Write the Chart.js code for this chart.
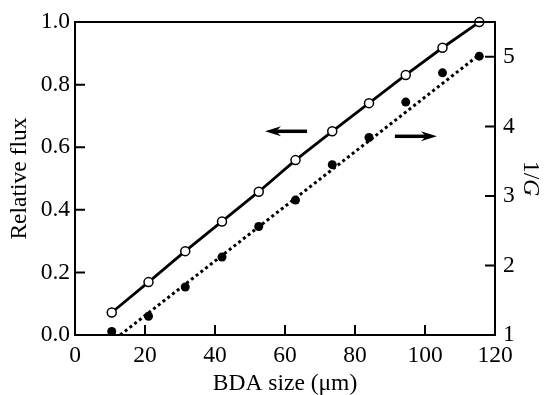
<!DOCTYPE html>
<html lang="en">
<head>
  <meta charset="UTF-8" />
  <title>Relative flux and 1/G vs BDA size</title>
  <script src="https://cdn.jsdelivr.net/npm/chart.js"></script>
  <style>
    html, body {
      margin: 0;
      padding: 0;
      background: #ffffff;
    }
    #wrap {
      width: 545px;
      height: 395px;
      position: relative;
    }
  </style>
</head>
<body>
  <div id="wrap"><canvas id="fluxChart"></canvas></div>

  <script>
    // values
    const bdaSize = [10.5, 21, 31.5, 42, 52.5, 63, 73.5, 84, 94.5, 105, 115.5];
    const relFlux = [0.072, 0.169, 0.268, 0.363, 0.458, 0.559, 0.651, 0.741, 0.831, 0.918, 1.0];
    const invG = [1.05, 1.27, 1.69, 2.12, 2.56, 2.94, 3.45, 3.84, 4.35, 4.77, 5.01];
    const fitX = [12.9, 115.5];
    const fitInvG = [1.0, 5.03];

    const xTicks = [0, 20, 40, 60, 80, 100, 120];
    const fluxTicks = [0, 0.2, 0.4, 0.6, 0.8, 1.0];
    const invGTicks = [1, 2, 3, 4, 5];

    const serif = "'Liberation Serif', 'DejaVu Serif', serif";
    const fontSize = 23.5;
    const font = { family: serif, size: fontSize };

    // arrows pointing at each curve's axis, in data units of the left axis
    const arrows = [
      { x0: 66.3, x1: 54.3, y: 0.651 },
      { x0: 91.4, x1: 103.4, y: 0.635 }
    ];

    const pts = (xs, ys) => xs.map((x, i) => ({ x: x, y: ys[i] }));

    const framePlugin = {
      id: 'frame',
      afterDraw(chart) {
        const { ctx, chartArea: a, scales } = chart;
        ctx.save();
        ctx.strokeStyle = '#000';
        ctx.lineWidth = 2;

        // top border
        ctx.beginPath();
        ctx.moveTo(a.left, a.top);
        ctx.lineTo(a.right, a.top);
        ctx.stroke();

        // inward ticks
        const len = 10;
        ctx.beginPath();
        scales.x.ticks.forEach(t => {
          const px = scales.x.getPixelForValue(t.value);
          ctx.moveTo(px, a.bottom);
          ctx.lineTo(px, a.bottom - len);
        });
        scales.y.ticks.forEach(t => {
          const py = scales.y.getPixelForValue(t.value);
          ctx.moveTo(a.left, py);
          ctx.lineTo(a.left + len, py);
        });
        scales.y2.ticks.forEach(t => {
          const py = scales.y2.getPixelForValue(t.value);
          ctx.moveTo(a.right, py);
          ctx.lineTo(a.right - len, py);
        });
        ctx.stroke();

        // arrows
        ctx.fillStyle = '#000';
        ctx.lineWidth = 3.5;
        arrows.forEach(ar => {
          const x0 = scales.x.getPixelForValue(ar.x0);
          const x1 = scales.x.getPixelForValue(ar.x1);
          const y = scales.y.getPixelForValue(ar.y);
          const dir = Math.sign(x1 - x0);
          const head = 15;
          ctx.beginPath();
          ctx.moveTo(x0, y);
          ctx.lineTo(x1 - dir * (head - 4), y);
          ctx.stroke();
          ctx.beginPath();
          ctx.moveTo(x1, y);
          ctx.lineTo(x1 - dir * (head + 1), y - 5);
          ctx.lineTo(x1 - dir * (head - 4), y);
          ctx.lineTo(x1 - dir * (head + 1), y + 5);
          ctx.closePath();
          ctx.fill();
        });

        // right axis title: 1/G with italic G, rotated clockwise
        ctx.translate(a.right + 35, (a.top + a.bottom) / 2);
        ctx.rotate(Math.PI / 2);
        ctx.textBaseline = 'middle';
        ctx.textAlign = 'left';
        ctx.font = fontSize + 'px ' + serif;
        const w1 = ctx.measureText('1/').width;
        ctx.font = 'italic ' + fontSize + 'px ' + serif;
        const w2 = ctx.measureText('G').width;
        const start = -(w1 + w2) / 2;
        ctx.font = fontSize + 'px ' + serif;
        ctx.fillText('1/', start, 0);
        ctx.font = 'italic ' + fontSize + 'px ' + serif;
        ctx.fillText('G', start + w1, 0);
        ctx.restore();
      }
    };

    const ctx = document.getElementById('fluxChart').getContext('2d');
    const chart = new Chart(ctx, {
      type: 'scatter',
      data: {
        datasets: [
          {
            label: 'Relative flux',
            data: pts(bdaSize, relFlux),
            yAxisID: 'y',
            showLine: true,
            borderColor: '#000',
            borderWidth: 2.8,
            pointRadius: 4.5,
            pointBorderWidth: 1.5,
            pointBackgroundColor: '#fff',
            pointBorderColor: '#000',
            clip: false
          },
          {
            label: '1/G',
            data: pts(bdaSize, invG),
            yAxisID: 'y2',
            showLine: false,
            pointRadius: 4.5,
            pointBorderWidth: 0,
            pointBackgroundColor: '#000',
            pointBorderColor: '#000',
            clip: false
          },
          {
            label: '1/G fit',
            data: pts(fitX, fitInvG),
            yAxisID: 'y2',
            showLine: true,
            borderColor: '#000',
            borderWidth: 3,
            borderDash: [3, 3],
            pointRadius: 0,
            clip: false
          }
        ]
      },
      options: {
        responsive: true,
        maintainAspectRatio: false,
        animation: false,
        layout: { padding: { top: 20, left: 0, right: 0, bottom: 0 } },
        plugins: {
          legend: { display: false },
          tooltip: { enabled: false }
        },
        scales: {
          x: {
            type: 'linear',
            min: 0,
            max: 120,
            afterFit: s => { s.height = 60; },
            afterBuildTicks: s => { s.ticks = xTicks.map(v => ({ value: v })); },
            ticks: { color: '#000', font: font, padding: 7, maxRotation: 0 },
            grid: { display: false, drawTicks: false },
            border: { display: true, color: '#000', width: 2 },
            title: {
              display: true,
              text: 'BDA size (μm)',
              color: '#000',
              font: { family: serif, size: fontSize, lineHeight: 0.9 },
              padding: { top: 0, bottom: 1 }
            }
          },
          y: {
            position: 'left',
            min: 0,
            max: 1,
            afterFit: s => { s.width = 75; },
            afterBuildTicks: s => { s.ticks = fluxTicks.map(v => ({ value: v })); },
            ticks: { color: '#000', font: font, padding: 5, callback: v => v.toFixed(1) },
            grid: { display: false, drawTicks: false },
            border: { display: true, color: '#000', width: 2 },
            title: {
              display: true,
              text: 'Relative flux',
              color: '#000',
              font: { family: serif, size: fontSize },
              padding: { top: 6, bottom: 0 }
            }
          },
          y2: {
            position: 'right',
            min: 1,
            max: 5.5,
            afterFit: s => { s.width = 50; },
            afterBuildTicks: s => { s.ticks = invGTicks.map(v => ({ value: v })); },
            ticks: { color: '#000', font: font, padding: 8 },
            grid: { display: false, drawTicks: false },
            border: { display: true, color: '#000', width: 2 }
          }
        }
      },
      plugins: [framePlugin]
    });
  </script>
</body>
</html>
